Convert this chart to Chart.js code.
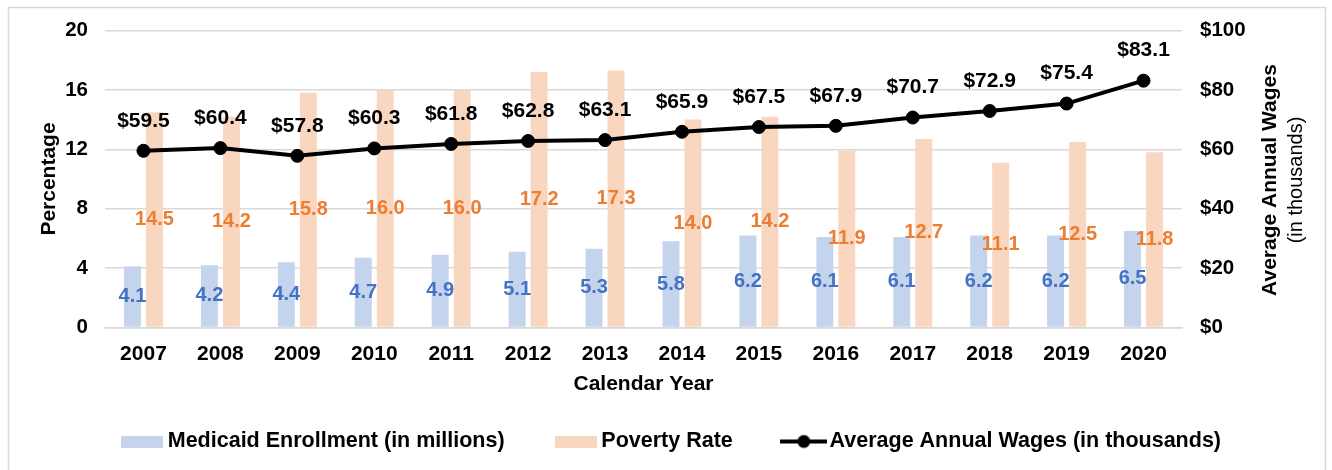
<!DOCTYPE html>
<html>
<head>
<meta charset="utf-8">
<script src="https://cdn.jsdelivr.net/npm/chart.js@4.4.1/dist/chart.umd.min.js"></script>
<style>
  html, body { margin: 0; padding: 0; background: #fff; }
</style>
</head>
<body>
<canvas id="chart" width="1332" height="470"></canvas>
<script>
const years = ['2007', '2008', '2009', '2010', '2011', '2012', '2013', '2014', '2015', '2016', '2017', '2018', '2019', '2020'];
const medicaid = [4.1, 4.2, 4.4, 4.7, 4.9, 5.1, 5.3, 5.8, 6.2, 6.1, 6.1, 6.2, 6.2, 6.5];
const poverty = [14.5, 14.2, 15.8, 16.0, 16.0, 17.2, 17.3, 14.0, 14.2, 11.9, 12.7, 11.1, 12.5, 11.8];
const wages = [59.5, 60.4, 57.8, 60.3, 61.8, 62.8, 63.1, 65.9, 67.5, 67.9, 70.7, 72.9, 75.4, 83.1];

const FONT = "'Liberation Sans', Arial, sans-serif";
const BLUE_BAR = '#c5d4ed';
const ORANGE_BAR = '#f9d6c0';
const BLUE_TEXT = '#4472c4';
const ORANGE_TEXT = '#ed7d31';
const GRID = '#d9d9d9';

// legend icons (drawn a bit wider than the legend box slot)
function boxIcon(color) {
  const c = document.createElement('canvas');
  c.width = 42; c.height = 12;
  const g = c.getContext('2d');
  g.fillStyle = color;
  g.fillRect(0, 0, 42, 12);
  return c;
}
function lineIcon() {
  const c = document.createElement('canvas');
  c.width = 47; c.height = 16;
  const g = c.getContext('2d');
  g.strokeStyle = '#000';
  g.lineWidth = 4;
  g.beginPath(); g.moveTo(0, 8); g.lineTo(47, 8); g.stroke();
  g.fillStyle = '#000';
  g.beginPath(); g.arc(23.5, 8, 6.5, 0, Math.PI * 2); g.fill();
  return c;
}
const legendIcons = [boxIcon(BLUE_BAR), boxIcon(ORANGE_BAR), lineIcon()];

// frame around the whole chart
const framePlugin = {
  id: 'frame',
  beforeDraw(chart) {
    const ctx = chart.ctx;
    ctx.save();
    ctx.strokeStyle = GRID;
    ctx.lineWidth = 1.5;
    ctx.strokeRect(8.5, 7.5, 1317, 480);
    ctx.restore();
  }
};

// value labels on bars and line points
const labelPlugin = {
  id: 'valueLabels',
  afterDatasetsDraw(chart) {
    const ctx = chart.ctx;
    ctx.save();
    ctx.textAlign = 'center';
    ctx.textBaseline = 'middle';
    ctx.font = 'bold 20px ' + FONT;
    const colors = [BLUE_TEXT, ORANGE_TEXT];
    [0, 1].forEach(di => {
      const meta = chart.getDatasetMeta(di);
      const data = chart.data.datasets[di].data;
      ctx.fillStyle = colors[di];
      meta.data.forEach((bar, i) => {
        const p = bar.getProps(['x', 'y', 'base'], true);
        ctx.fillText(data[i].toFixed(1), p.x, (p.y + p.base) / 2);
      });
    });
    ctx.font = 'bold 21px ' + FONT;
    ctx.fillStyle = '#000';
    chart.getDatasetMeta(2).data.forEach((pt, i) => {
      const p = pt.getProps(['x', 'y'], true);
      ctx.fillText('$' + wages[i].toFixed(1), p.x, p.y - 30);
    });
    ctx.restore();
  }
};

// right axis title reads bottom-to-top, on two lines
const rightTitlePlugin = {
  id: 'rightTitle',
  afterDraw(chart) {
    const ctx = chart.ctx;
    const area = chart.chartArea;
    const cy = (area.top + area.bottom) / 2;
    ctx.save();
    ctx.fillStyle = '#000';
    ctx.textAlign = 'center';
    ctx.textBaseline = 'middle';
    ctx.translate(1270, cy + 1);
    ctx.rotate(-Math.PI / 2);
    ctx.font = 'bold 21px ' + FONT;
    ctx.fillText('Average Annual Wages', 0, 0);
    ctx.font = '20px ' + FONT;
    ctx.fillText('(in thousands)', 0, 26);
    ctx.restore();
  }
};

const tickFont = { family: FONT, size: 20.5, weight: 'bold' };

new Chart(document.getElementById('chart'), {
  data: {
    labels: years,
    datasets: [
      {
        type: 'bar',
        label: 'Medicaid Enrollment (in millions)',
        data: medicaid,
        yAxisID: 'y',
        backgroundColor: BLUE_BAR,
        categoryPercentage: 0.572,
        barPercentage: 0.77,
        order: 1
      },
      {
        type: 'bar',
        label: 'Poverty Rate',
        data: poverty,
        yAxisID: 'y',
        backgroundColor: ORANGE_BAR,
        categoryPercentage: 0.572,
        barPercentage: 0.77,
        order: 1
      },
      {
        type: 'line',
        label: 'Average Annual Wages (in thousands)',
        data: wages,
        yAxisID: 'y1',
        borderColor: '#000',
        backgroundColor: '#000',
        borderWidth: 4,
        pointRadius: 6.5,
        pointBorderWidth: 1,
        pointHoverRadius: 6.5,
        tension: 0,
        order: 0
      }
    ]
  },
  options: {
    responsive: false,
    animation: false,
    layout: { padding: { top: 30.5, left: 16, right: 0, bottom: 7.75 } },
    plugins: {
      tooltip: { enabled: false },
      legend: {
        position: 'bottom',
        labels: {
          usePointStyle: true,
          pointStyleWidth: 30,
          padding: 56,
          color: '#000',
          font: { family: FONT, size: 21.5, weight: 'bold' },
          generateLabels(chart) {
            const items = Chart.defaults.plugins.legend.labels.generateLabels(chart);
            items.sort((a, b) => a.datasetIndex - b.datasetIndex);
            items.forEach(it => { it.pointStyle = legendIcons[it.datasetIndex]; });
            return items;
          }
        }
      }
    },
    scales: {
      x: {
        grid: { display: false },
        border: { display: true, color: GRID, width: 1.5 },
        ticks: { color: '#000', padding: 6, font: { family: FONT, size: 21, weight: 'bold' } },
        title: {
          display: true,
          text: 'Calendar Year',
          color: '#000',
          padding: { top: 0, bottom: -21.85 },
          font: { family: FONT, size: 21, weight: 'bold' }
        },
        afterFit(scale) { scale.height = 47.25; }
      },
      y: {
        position: 'left',
        min: 0,
        max: 20,
        grid: { color: GRID, lineWidth: 1.5, drawTicks: false },
        border: { display: false },
        ticks: { stepSize: 4, color: '#000', padding: 17, font: tickFont },
        title: {
          display: true,
          text: 'Percentage',
          color: '#000',
          padding: { top: 21, bottom: 0 },
          font: { family: FONT, size: 21, weight: 'bold' }
        },
        afterFit(scale) { scale.width = 89; }
      },
      y1: {
        position: 'right',
        min: 0,
        max: 100,
        grid: { display: false, drawTicks: false },
        border: { display: false },
        ticks: {
          stepSize: 20,
          color: '#000',
          padding: 18,
          font: tickFont,
          callback: v => '$' + v
        },
        afterFit(scale) { scale.width = 150; }
      }
    }
  },
  plugins: [framePlugin, labelPlugin, rightTitlePlugin]
});
</script>
</body>
</html>
